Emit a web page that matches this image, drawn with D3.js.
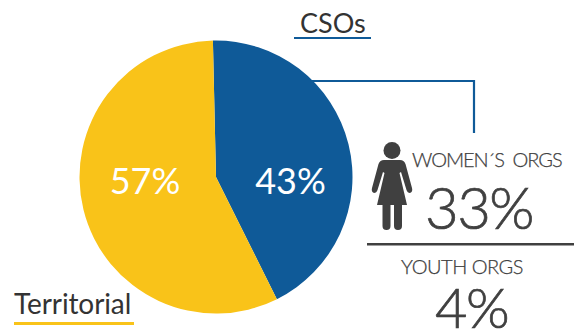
<!DOCTYPE html>
<html>
<head>
<meta charset="utf-8">
<script src="https://cdn.jsdelivr.net/npm/d3@7"></script>
<style>
html,body{margin:0;padding:0;background:#fff}
svg{display:block}
text{font-family:Lato,"Open Sans",sans-serif}
</style>
</head>
<body>
<svg id="chart" width="574" height="330"></svg>
<script>
const categories = ["CSOs", "Territorial"];
const shares = [43, 57];
const sliceColors = ["#0f5a98", "#f9c319"];
const subCategories = ["WOMEN\u00b4S  ORGS", "YOUTH ORGS"];
const subShares = [33, 4];

const svg = d3.select("#chart");
const cx = 216, cy = 177, radius = 136.5;
const startAngle = -1.3 * Math.PI / 180;

const pie = d3.pie().sort(null).startAngle(startAngle).endAngle(startAngle + 2 * Math.PI);
const arc = d3.arc().innerRadius(0).outerRadius(radius);
const arcs = pie(shares);

// connector from the CSOs slice to the breakdown
svg.append("path")
  .attr("d", "M310,81H474V133")
  .attr("fill", "none")
  .attr("stroke", sliceColors[0])
  .attr("stroke-width", 2.2);

const g = svg.append("g").attr("transform", `translate(${cx},${cy})`);
g.selectAll("path").data(arcs).join("path")
  .attr("d", arc)
  .attr("fill", (d, i) => sliceColors[i]);

// percentages inside the slices
const labelAnchors = [[290.5, 194], [145, 194]];
svg.selectAll("text.share").data(shares).join("text")
  .attr("class", "share")
  .attr("x", (d, i) => labelAnchors[i][0])
  .attr("y", (d, i) => labelAnchors[i][1])
  .attr("text-anchor", "middle")
  .attr("font-size", 36)
  .attr("fill", "#fff")
  .text(d => d + "%");

// slice captions with their rules
svg.append("text").attr("x", 300).attr("y", 33).attr("font-size", 27).attr("fill", "#333").text(categories[0]);
svg.append("rect").attr("x", 294).attr("y", 37).attr("width", 77).attr("height", 2).attr("fill", sliceColors[0]);
svg.append("text").attr("x", 14).attr("y", 314).attr("font-size", 28).attr("letter-spacing", -0.1).attr("fill", "#333").text(categories[1]);
svg.append("rect").attr("x", 14).attr("y", 322).attr("width", 120).attr("height", 3).attr("fill", sliceColors[1]);

// breakdown of the CSOs share
const ink = "#404040";
svg.append("text").attr("x", 412).attr("y", 167).attr("font-size", 20).attr("font-weight", 300).attr("letter-spacing", -1.1)
  .attr("stroke", ink).attr("stroke-width", 0.25)
  .style("white-space", "pre").attr("fill", ink).text(subCategories[0]);
svg.append("text").attr("x", 425).attr("y", 229).attr("font-size", 58).attr("font-weight", 300)
  .attr("letter-spacing", -1.5).attr("stroke", ink).attr("stroke-width", 0.7)
  .attr("fill", ink).text(subShares[0] + "%");
svg.append("rect").attr("x", 367).attr("y", 243).attr("width", 207).attr("height", 2.5).attr("fill", ink);
svg.append("text").attr("x", 401).attr("y", 274).attr("font-size", 20).attr("font-weight", 300).attr("letter-spacing", -0.5)
  .attr("stroke", ink).attr("stroke-width", 0.25).attr("fill", ink).text(subCategories[1]);
svg.append("text").attr("x", 435).attr("y", 328).attr("font-size", 56).attr("font-weight", 300)
  .attr("letter-spacing", -1.5).attr("stroke", ink).attr("stroke-width", 0.7)
  .attr("fill", ink).text(subShares[1] + "%");

// woman pictogram
const icon = svg.append("g").attr("transform", "translate(372,142)").attr("fill", ink);
icon.append("circle").attr("cx", 20).attr("cy", 8.5).attr("r", 8.5);
icon.append("path").attr("d", "M12,18 H28 Q32,18 33.5,22 L40,46 Q41,50 38,51 Q35.500,51 34.500,48 L29,30 L27.500,31 L35,63 H30 V84 Q30,88 26,88 Q22,88 22,84 V63 H18.500 V84 Q18.500,88 14.500,88 Q10.500,88 10.500,84 V63 H5 L12.500,31 L11,30 L5.500,48 Q4.500,51 2,51 Q-1,50 0,46 L6.500,22 Q8,18 12,18 Z");
</script>
</body>
</html>
